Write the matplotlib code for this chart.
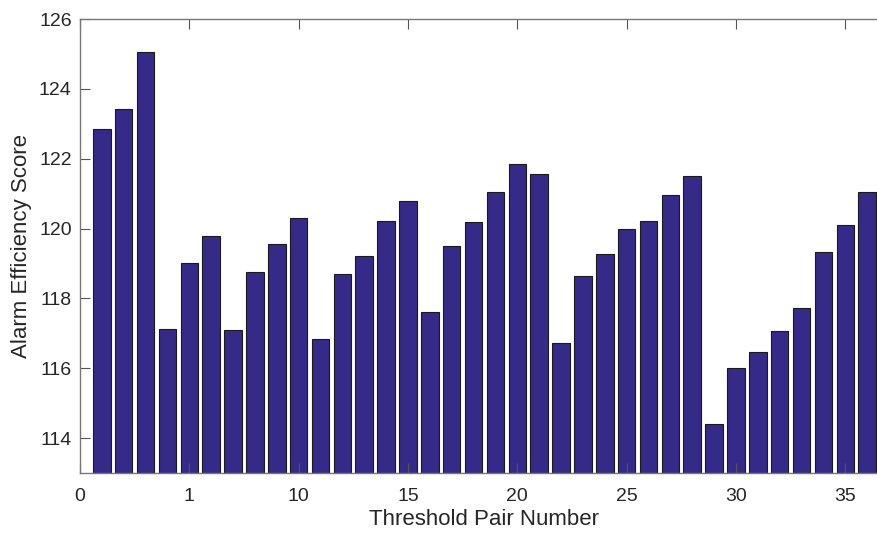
import numpy as np
import matplotlib.pyplot as plt

plt.rcParams['font.family'] = ['Liberation Sans', 'DejaVu Sans']

# Threshold pair index and alarm efficiency score
pair_numbers = np.arange(1, 37)
scores = [122.85, 123.43, 125.05, 117.13, 119.00, 119.78, 117.10, 118.75, 119.57,
          120.31, 116.83, 118.69, 119.21, 120.22, 120.79, 117.62, 119.49, 120.19,
          121.06, 121.85, 121.55, 116.71, 118.64, 119.27, 119.99, 120.21, 120.95,
          121.51, 114.39, 116.02, 116.47, 117.08, 117.73, 119.32, 120.11, 121.06]

x_ticks = [0, 5, 10, 15, 20, 25, 30, 35]
x_tick_labels = ['0', '1', '10', '15', '20', '25', '30', '35']
y_ticks = [114, 116, 118, 120, 122, 124, 126]

fig = plt.figure(figsize=(8.78, 5.36), dpi=100)
# axes run slightly past the right edge, as in the cropped original
ax = fig.add_axes([80 / 878, 63 / 536, 809 / 878, 454 / 536])

ax.bar(pair_numbers, scores, width=0.8, color='#352a87', edgecolor='#1a1a1a',
       linewidth=0.8)
ax.set_xlim(0, 37)
ax.set_ylim(113, 126)

ax.set_xticks(x_ticks)
ax.set_xticklabels(x_tick_labels)
ax.set_yticks(y_ticks)
ax.tick_params(direction='in', length=7, width=0.8, color='#555555',
               labelsize=14, labelcolor='#262626', top=True)
ax.tick_params(axis='x', pad=11)
ax.tick_params(axis='y', pad=6)

for side in ['left', 'bottom', 'top']:
    ax.spines[side].set_color('#777777')
    ax.spines[side].set_linewidth(1.0)
ax.spines['right'].set_visible(False)

ax.set_xlabel('Threshold Pair Number', fontsize=16, color='#262626', labelpad=3)
ax.set_ylabel('Alarm Efficiency Score', fontsize=16, color='#262626', labelpad=5)

fig.savefig('out.png', dpi=100)
